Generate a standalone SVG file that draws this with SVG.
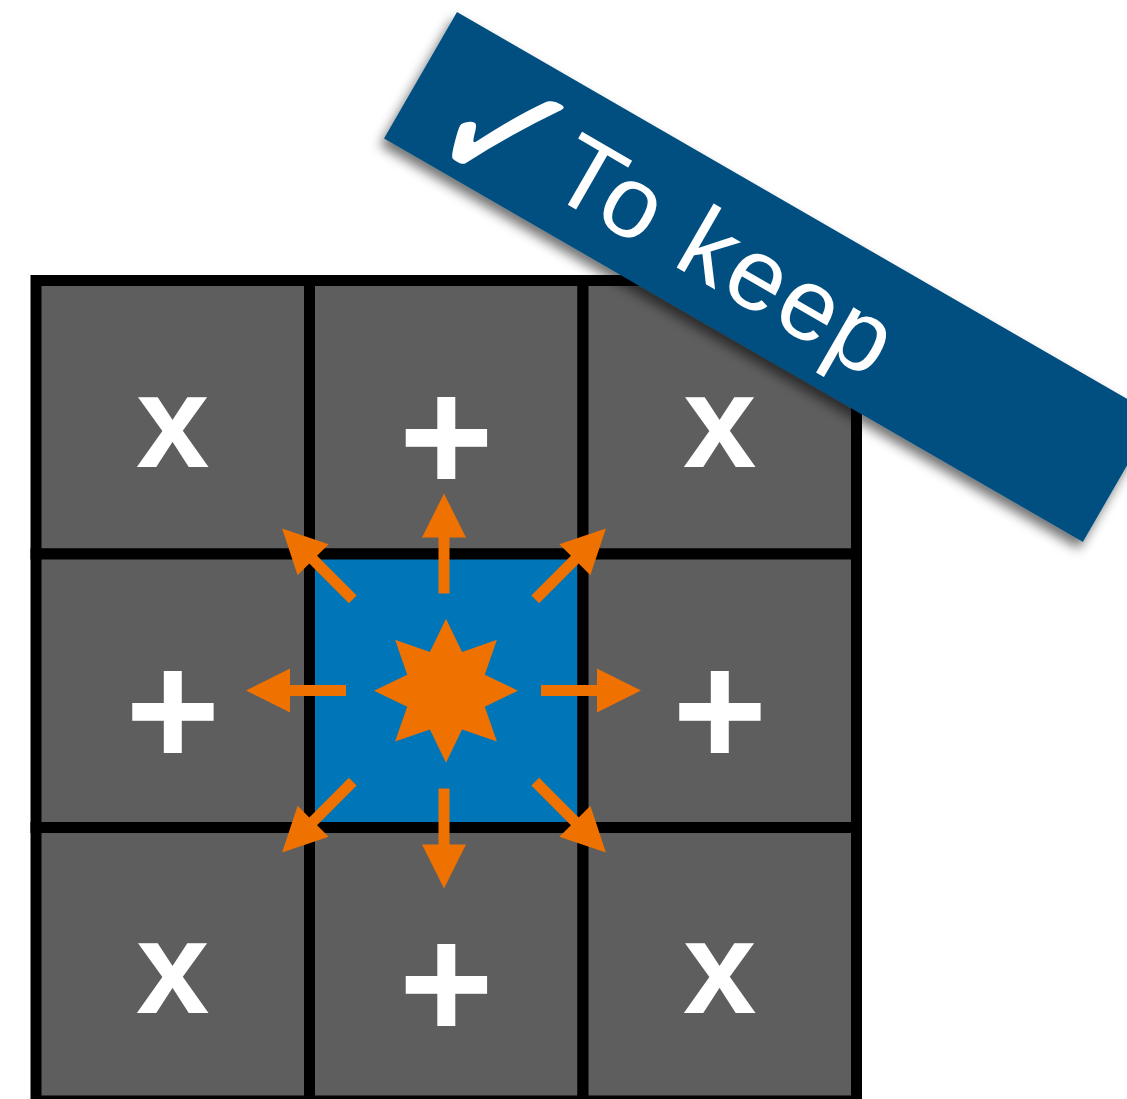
<svg xmlns="http://www.w3.org/2000/svg" xmlns:xlink="http://www.w3.org/1999/xlink" width="1127" height="1099" viewBox="0 0 1127 1099">
  <style>
    .cell { fill: #5E5E5E; stroke: #000; stroke-width: 11; }
    .center { fill: #0075B8; stroke: #000; stroke-width: 11; }
    .sym { font-family: "Liberation Sans", Arial, sans-serif; font-weight: bold; fill: #fff; text-anchor: middle; }
    .xs { font-size: 132px; }
    .ps { font-size: 162px; }
    .orange { fill: #EF7100; }
    .banner-text { font-family: "Liberation Sans", Arial, sans-serif; font-size: 102px; letter-spacing: 3px; fill: #fff; }
    .check { font-family: "DejaVu Sans", sans-serif; font-size: 156px; fill: #fff; }
  </style>
  <defs>
    <path id="arrow" d="M0,-5.5 H56 V-22 L100,0 L56,22 V5.5 H0 Z"/>
    <filter id="shadow" x="-10%" y="-30%" width="120%" height="170%">
      <feDropShadow dx="0" dy="8" stdDeviation="6" flood-color="#000" flood-opacity="0.55"/>
    </filter>
  </defs>

  <g id="cell-0-0"><rect class="cell" x="36" y="280.5" width="273.5" height="273.5"/><text class="sym xs" x="172.75" y="467">x</text></g>
  <g id="cell-1-0"><rect class="cell" x="309.5" y="280.5" width="273.5" height="273.5"/><text class="sym ps" x="446.25" y="492">+</text></g>
  <g id="cell-2-0"><rect class="cell" x="583" y="280.5" width="273.5" height="273.5"/><text class="sym xs" x="719.75" y="467">x</text></g>
  <g id="cell-0-1"><rect class="cell" x="36" y="554" width="273.5" height="273.5"/><text class="sym ps" x="172.75" y="765.5">+</text></g>
  <g id="cell-1-1"><rect class="center" x="309.5" y="554" width="273.5" height="273.5"/></g>
  <g id="cell-2-1"><rect class="cell" x="583" y="554" width="273.5" height="273.5"/><text class="sym ps" x="719.75" y="765.5">+</text></g>
  <g id="cell-0-2"><rect class="cell" x="36" y="827.5" width="273.5" height="273.5"/><text class="sym xs" x="172.75" y="1013">x</text></g>
  <g id="cell-1-2"><rect class="cell" x="309.5" y="827.5" width="273.5" height="273.5"/><text class="sym ps" x="446.25" y="1039">+</text></g>
  <g id="cell-2-2"><rect class="cell" x="583" y="827.5" width="273.5" height="273.5"/><text class="sym xs" x="719.75" y="1013">x</text></g>

  <g id="connectors" class="orange">
    <use xlink:href="#arrow" transform="translate(444,690.5) rotate(0) translate(97,0)"/>
    <use xlink:href="#arrow" transform="translate(444,690.5) rotate(90) translate(98,0)"/>
    <use xlink:href="#arrow" transform="translate(444,690.5) rotate(180) translate(98,0)"/>
    <use xlink:href="#arrow" transform="translate(444,690.5) rotate(-90) translate(97,0)"/>
    <use xlink:href="#arrow" transform="translate(444,690.5) rotate(45) translate(129,0)"/>
    <use xlink:href="#arrow" transform="translate(444,690.5) rotate(135) translate(129,0)"/>
    <use xlink:href="#arrow" transform="translate(444,690.5) rotate(-135) translate(129,0)"/>
    <use xlink:href="#arrow" transform="translate(444,690.5) rotate(-45) translate(129,0)"/>
  </g>

  <g id="star">
    <polygon class="orange" transform="translate(446,690.7)" points="0,-72 16.07,-38.8 50.91,-50.91 38.8,-16.07 72,0 38.8,16.07 50.91,50.91 16.07,38.8 0,72 -16.07,38.8 -50.91,50.91 -38.8,16.07 -72,0 -38.8,-16.07 -50.91,-50.91 -16.07,-38.8"/>
  </g>

  <g id="banner" transform="translate(457,12) rotate(30)">
    <rect x="0" y="0" width="807" height="146" fill="#024F80" filter="url(#shadow)"/>
    <text class="check" transform="translate(36,148) scale(1,1.22)" x="0" y="0">✓</text>
    <text class="banner-text" x="166" y="111.5">To keep</text>
  </g>
</svg>
